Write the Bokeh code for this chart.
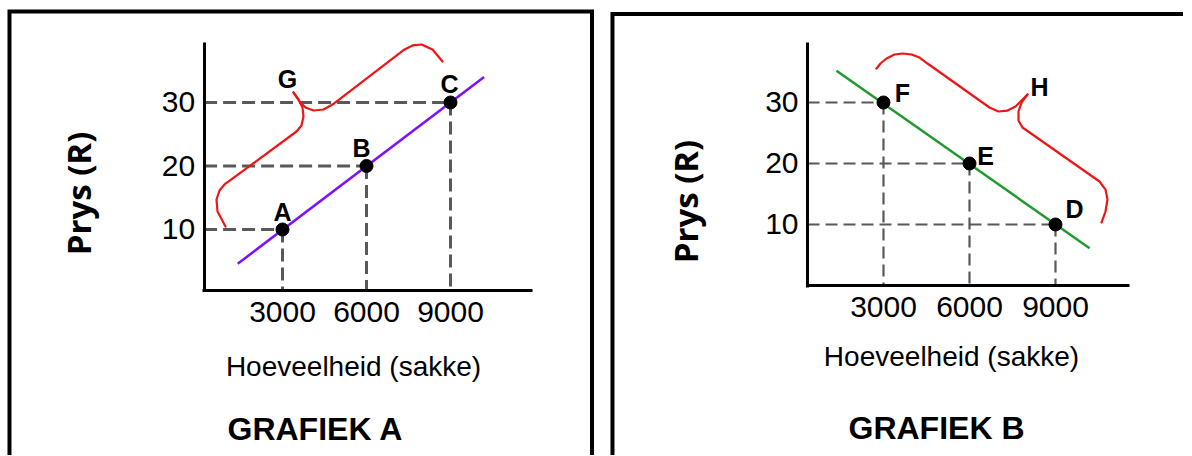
import math
from bokeh.plotting import figure
from bokeh.models import Range1d, LinearAxis, FixedTicker, Label
from bokeh.layouts import row
from bokeh.core.properties import value
from bokeh.embed import file_html
from bokeh.resources import INLINE

# ---------------- data ----------------
x_ticks = [3000, 6000, 9000]
y_ticks = [10, 20, 30]
x_title = "Hoeveelheid (sakke)"
y_title = "Prys (R)"

a_names = ["A", "B", "C"]
a_qty = [3000, 6000, 9000]
a_price = [10, 20, 30]
a_line_qty = [1400, 10200]
a_line_price = [4.6, 34.0]
a_title = "GRAFIEK A"
a_brace_label = "G"

b_names = ["D", "E", "F"]
b_qty = [9000, 6000, 3000]
b_price = [10, 20, 30]
b_line_qty = [1360, 10190]
b_line_price = [35.2, 6.1]
b_title = "GRAFIEK B"
b_brace_label = "H"

# ---------------- annotation geometry (data units) ----------------
a_brace_xs = [[965, 679, 643, 750, 929, 3500, 3679, 3750, 3714, 3572, 3393],
              [3393, 3608, 3822, 4108, 4465, 4786, 7358, 7643, 7965, 8358, 8715]]
a_brace_ys = [[10.47, 12.83, 14.72, 16.14, 17.09, 25.43, 26.38, 27.79, 29.21, 30.47, 31.57],
              [31.57, 30.16, 29.21, 28.74, 28.90, 29.68, 38.35, 38.98, 39.13, 38.35, 36.46]]
b_brace_xs = [[2756, 2895, 3105, 3384, 3663, 3977, 4256, 4535, 6698, 7012, 7326, 7605, 7814, 8023],
              [8023, 7814, 7709, 7709, 7849, 10535, 10744, 10814, 10744, 10605]]
b_brace_ys = [[35.57, 36.39, 37.21, 37.87, 38.03, 37.87, 37.37, 36.39, 29.18, 28.52, 28.68, 29.34, 30.33, 31.31],
              [31.31, 29.98, 28.52, 27.05, 25.90, 17.05, 15.73, 14.10, 12.13, 10.32]]

FONT = "Liberation Sans"
HEIGHT = 455


def panel(width, xr, yr, ax_x, ax_y, x_end, y_end, ax_lo_x, ax_lo_y,
          border_x, border_y, qty, price, names, offx, offy,
          line_qty, line_price, line_color, brace_xs, brace_ys,
          brace_lbl, brace_lbl_xy, dash_w, dash_pat,
          ylab_xy, xlab_xy, title, title_xy):
    p = figure(width=width, height=HEIGHT, x_range=Range1d(*xr), y_range=Range1d(*yr),
               x_axis_type=None, y_axis_type=None, output_backend="svg",
               toolbar_location=None, min_border=0, outline_line_color=None,
               background_fill_color="white", border_fill_color="white")

    common = dict(axis_line_width=3, axis_line_color="black",
                  major_tick_in=0, major_tick_out=0,
                  major_tick_line_color=None, minor_tick_line_color=None,
                  major_label_text_font=FONT, major_label_text_font_size="30px",
                  major_label_text_color="black")
    xa = LinearAxis(fixed_location=ax_y, bounds=(ax_lo_x, x_end),
                    ticker=FixedTicker(ticks=x_ticks), major_label_standoff=12, **common)
    ya = LinearAxis(fixed_location=ax_x, bounds=(ax_lo_y, y_end),
                    ticker=FixedTicker(ticks=y_ticks), major_label_standoff=9, **common)
    p.add_layout(xa, "below")
    p.add_layout(ya, "left")

    # panel frame
    p.line(border_x, border_y, line_color="black", line_width=4, line_join="miter")

    # dashed guides
    p.segment(x0=[ax_x] * len(qty), y0=price, x1=qty, y1=price,
              line_color="#595959", line_width=dash_w, line_dash=dash_pat)
    p.segment(x0=qty, y0=price, x1=qty, y1=[ax_y] * len(qty),
              line_color="#595959", line_width=dash_w, line_dash=dash_pat)

    # curve
    p.line(line_qty, line_price, line_color=line_color, line_width=2.5)

    # points
    p.scatter(qty, price, size=13, color="black")
    p.text(x=qty, y=price, text=names, x_offset=offx, y_offset=offy,
           text_font=value(FONT), text_font_style="bold", text_font_size="25px",
           text_align="center", text_baseline="middle", text_color="black")

    # brace
    p.multi_line(brace_xs, brace_ys, line_color="#f01515", line_width=2.2,
                 line_join="round", line_cap="round")
    p.add_layout(Label(x=brace_lbl_xy[0], y=brace_lbl_xy[1], text=brace_lbl,
                       text_font=FONT, text_font_style="bold", text_font_size="25px",
                       text_align="center", text_baseline="middle", text_color="black"))

    # titles
    p.add_layout(Label(x=ylab_xy[0], y=ylab_xy[1], text=y_title, angle=math.pi / 2,
                       text_font="Open Sans", text_font_style="bold", text_font_size="33px",
                       text_align="center", text_baseline="middle", text_color="black"))
    p.add_layout(Label(x=xlab_xy[0], y=xlab_xy[1], text=x_title,
                       text_font=FONT, text_font_size="28px",
                       text_align="center", text_baseline="middle", text_color="black"))
    p.add_layout(Label(x=title_xy[0], y=title_xy[1], text=title,
                       text_font=FONT, text_font_style="bold", text_font_size="32px",
                       text_align="center", text_baseline="middle", text_color="black"))
    return p


p1 = panel(603, (-7071, 14464), (-25.59, 46.06), 200, 0.4, 11930, 39.45, 146, 0.16,
           [-6750, -6750, 14054, 14054], [-40, 44.33, 44.33, -40],
           a_qty, a_price, a_names, [0, -5, -1], [-17, -18, -18],
           a_line_qty, a_line_price, "#7f10ff", a_brace_xs, a_brace_ys,
           a_brace_label, (3179, 33.62), 3, "13 6",
           (-4285, 15.67), (5536, -11.58), a_title, (4179, -21.34))

p2 = panel(580, (-6767, 13465), (-27.87, 46.72), 350, 0, 11580, 39.83, 298, -0.25,
           [-6454, -6454, 14500], [-40, 44.5, 44.5],
           b_qty, b_price, b_names, [19, 16, 19], [-15, -7, -9],
           b_line_qty, b_line_price, "#1f9a2e", b_brace_xs, b_brace_ys,
           b_brace_label, (8442, 32.62), 2.2, "12 6",
           (-3907, 13.77), (5372, -11.64), b_title, (4849, -23.44))

layout = row(p1, p2)
open("out.html", "w").write(file_html(layout, INLINE))
